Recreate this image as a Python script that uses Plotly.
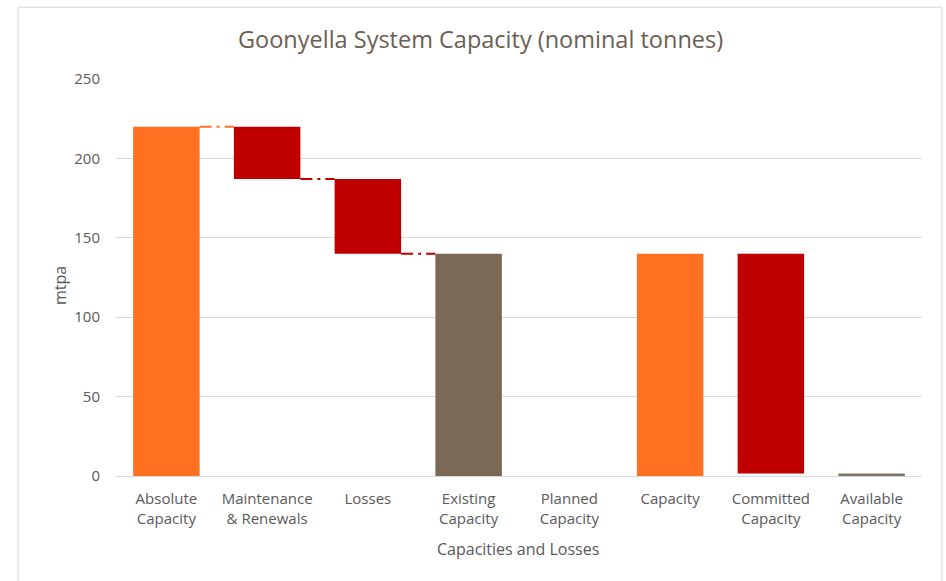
import plotly.graph_objects as go

# Waterfall of Goonyella system capacity (mtpa)
categories = ["Absolute<br>Capacity", "Maintenance<br>& Renewals", "Losses",
              "Existing<br>Capacity", "Planned<br>Capacity", "Capacity",
              "Committed<br>Capacity", "Available<br>Capacity"]
amounts = [220, 33, 47, 140, 0, 140, 138.5, 1.5]
# "total" bars stand on zero, "loss" bars hang down from the running level
kinds = ["total", "loss", "loss", "total", "total", "total", "loss", "total"]
ORANGE, RED, BROWN, GREY = "#FF7021", "#C00000", "#7B6955", "#7E7464"
colors = [ORANGE, RED, RED, BROWN, BROWN, ORANGE, RED, GREY]
# connectors drawn after these category indices (to the next bar)
connect_after = [0, 1, 2]

bases, level = [], 0
for amt, kind in zip(amounts, kinds):
    if kind == "total":
        bases.append(0)
        level = amt
    else:
        level = level - amt
        bases.append(level)

x = list(range(len(categories)))
bar_w = 0.66

fig = go.Figure()
fig.add_trace(go.Bar(x=x, y=amounts, base=bases, width=bar_w,
                     marker=dict(color=colors, line=dict(width=0)),
                     showlegend=False, hoverinfo="skip"))

# dash-dot connectors between consecutive waterfall steps
for i in connect_after:
    lvl = bases[i] if kinds[i] == "loss" else bases[i] + amounts[i]
    fig.add_trace(go.Scatter(
        x=[i + bar_w / 2, i + 1 - bar_w / 2], y=[lvl, lvl], mode="lines",
        line=dict(color=colors[i], width=2, dash="12px,5px,3px,5px"),
        showlegend=False, hoverinfo="skip"))

TXT = "#595959"
FONT = "Open Sans"
fig.update_layout(
    width=946, height=581,
    margin=dict(l=116, r=24, t=79, b=105),
    paper_bgcolor="white", plot_bgcolor="white",
    font=dict(family=FONT, color=TXT, size=15),
    title=dict(text="Goonyella System Capacity (nominal tonnes)",
               x=0.508, xanchor="center", y=0.931, yanchor="middle",
               yref="container",
               font=dict(family=FONT, size=23.5, color="#6B5E52")),
    xaxis=dict(range=[-0.5, len(categories) - 0.5], tickmode="array",
               tickvals=x, ticktext=categories, showgrid=False,
               zeroline=False, showline=False, ticks="",
               ticklabelstandoff=12,
               tickfont=dict(size=15, color=TXT)),
    yaxis=dict(range=[0, 250], tickvals=[0, 50, 100, 150, 200, 250],
               showgrid=True, gridcolor="#D9D9D9", gridwidth=1,
               zeroline=True, zerolinecolor="#D9D9D9", zerolinewidth=1,
               showline=False, ticks="", ticklabelstandoff=15,
               tickfont=dict(size=15, color=TXT)),
    annotations=[
        dict(text="mtpa", xref="paper", yref="paper", x=-0.0695, y=0.481,
             textangle=-90, showarrow=False, xanchor="center", yanchor="middle",
             font=dict(size=16, color=TXT)),
        dict(text="Capacities and Losses", xref="paper", yref="paper",
             x=0.4988, y=-0.184, showarrow=False, xanchor="center",
             yanchor="middle", font=dict(size=16, color=TXT)),
    ],
    shapes=[dict(type="rect", xref="paper", yref="paper",
                 x0=-0.1216, x1=1.0248, y0=-0.3, y1=1.181,
                 line=dict(color="#D9D9D9", width=1), layer="below")],
)

fig.write_html("out.html")
